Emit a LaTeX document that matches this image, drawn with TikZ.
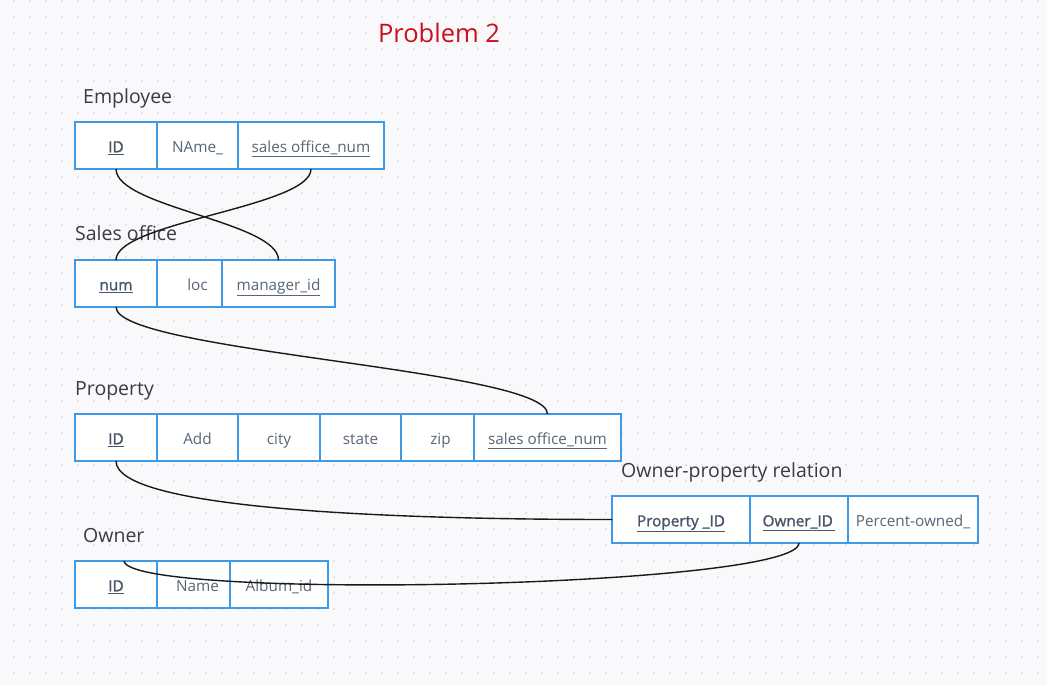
\documentclass[tikz,border=0pt]{standalone}
\usepackage{fontspec}
\setmainfont{Open Sans}
\newfontfamily\keyfont[FakeBold=1.3]{Open Sans}
\usetikzlibrary{positioning}
\definecolor{bgcol}{RGB}{249,249,251}
\definecolor{dotcol}{RGB}{221,221,227}
\definecolor{cellline}{RGB}{62,154,228}
\definecolor{celltext}{RGB}{88,102,118}
\definecolor{keytext}{RGB}{72,86,104}
\definecolor{titletext}{RGB}{60,60,64}
\definecolor{probred}{RGB}{200,16,30}
\newcommand{\key}[1]{{\keyfont\color{keytext}\underline{#1}}}
\newcommand{\ulink}[1]{\underline{#1}}
\tikzstyle{cell} = [rectangle, minimum height=47pt, inner sep=0pt, outer sep=0pt, text height=15pt, text depth=1.4pt, text centered, draw=cellline, line width=1.5pt, fill=white, text=celltext, font=\fontsize{15.3}{18}\selectfont]
\tikzstyle{tabtitle} = [anchor=base west, inner sep=0pt, text=titletext, font=\fontsize{19.5}{23}\selectfont]
\tikzstyle{link} = [line width=1.4pt, black!90]

\begin{document}
\begin{tikzpicture}[x=1pt, y=-1pt]
\fill[bgcol] (0,0) rectangle (1047,685);
\useasboundingbox (0,0) rectangle (1047,685);
\foreach \x in {14,30,...,1046}
  \foreach \y in {1,17,...,673}
    \fill[dotcol] (\x,\y) circle (1.1pt);

\node (title) [anchor=base, text=probred, font=\fontsize{25.5}{30}\selectfont] at (439,43) {Problem 2};

\node (tEmp) [tabtitle] at (83,103) {Employee};
\node (eID) [cell, anchor=north west, minimum width=82pt] at (75,122) {\key{ID}};
\node (eName) [cell, right=0pt of eID, minimum width=81pt] {NAme\_};
\node (eSales) [cell, right=0pt of eName, minimum width=146pt] {\ulink{sales office\_num}};

\node (tSal) [tabtitle] at (75,240) {Sales office};
\node (sNum) [cell, anchor=north west, minimum width=82pt] at (75,260) {\key{num}};
\node (sLoc) [cell, right=0pt of sNum, minimum width=81pt] {loc};
\node (sMgr) [cell, right=-16pt of sLoc, minimum width=113pt] {\ulink{manager\_id}};

\node (tProp) [tabtitle] at (75,395) {Property};
\node (pID) [cell, anchor=north west, minimum width=82pt] at (75,414) {\key{ID}};
\node (pAdd) [cell, right=0pt of pID, minimum width=81pt] {Add};
\node (pCity) [cell, right=0pt of pAdd, minimum width=82pt] {city};
\node (pState) [cell, right=0pt of pCity, minimum width=81pt] {state};
\node (pZip) [cell, right=0pt of pState, minimum width=73pt] {\hspace{6pt}zip};
\node (pSales) [cell, right=0pt of pZip, minimum width=147pt] {\ulink{sales office\_num}};

\node (tOP) [tabtitle] at (621,477) {Owner-property relation};
\node (opProp) [cell, anchor=north west, minimum width=138pt] at (612,496) {\key{Property \_ID}};
\node (opOwner) [cell, right=0pt of opProp, minimum width=98pt] {\key{Owner\_ID\,}};
\node (opPct) [cell, right=0pt of opOwner, minimum width=130pt] {Percent-owned\_};

\node (tOwn) [tabtitle] at (83,542) {Owner};
\node (oID) [cell, anchor=north west, minimum width=82pt] at (75,561) {\key{ID}};
\node (oName) [cell, right=0pt of oID, minimum width=81pt] {Name};
\node (oAlbum) [cell, right=-8pt of oName, minimum width=98pt] {Album\_id};

\draw [link] (eID.south) .. controls +(0,38) and +(0,-38) .. (sMgr.north);
\draw [link] (eSales.south) .. controls +(0,38) and +(0,-38) .. (sNum.north);
\draw [link] (sNum.south) .. controls +(0,45) and +(0,-45) .. (pSales.north);
\draw [link] (pID.south) .. controls +(0,49) and +(-212,0) .. (opProp.west);
\draw [link] ([xshift=8pt]oID.north) .. controls +(5,40) and +(0,45) .. (opOwner.south);
\end{tikzpicture}
\end{document}
